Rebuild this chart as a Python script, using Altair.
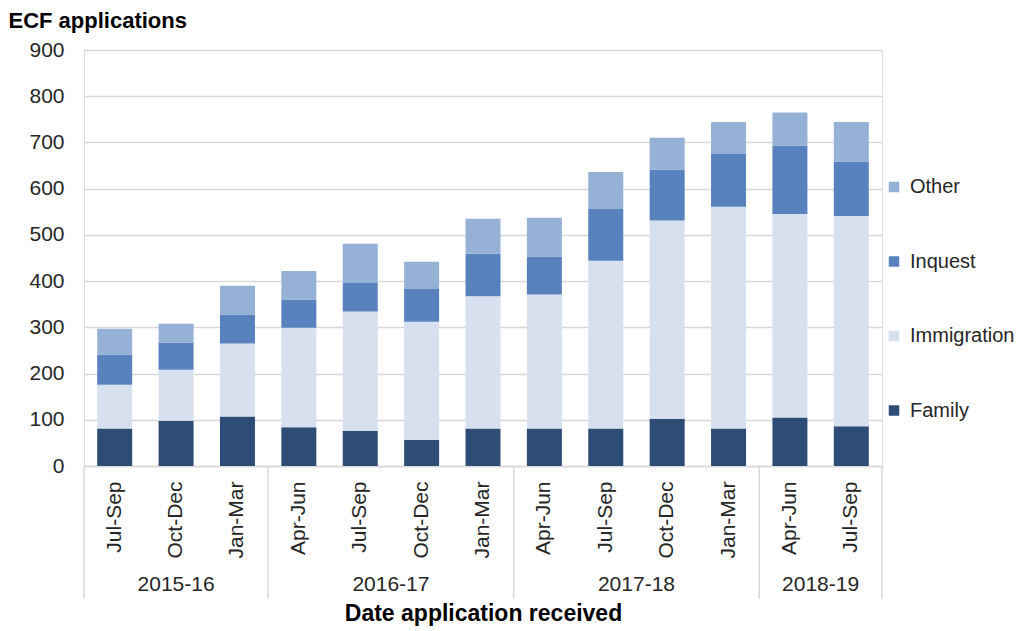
import altair as alt
import pandas as pd

years = ["2015-16"] * 3 + ["2016-17"] * 4 + ["2017-18"] * 4 + ["2018-19"] * 2
quarters = ["Jul-Sep", "Oct-Dec", "Jan-Mar",
            "Apr-Jun", "Jul-Sep", "Oct-Dec", "Jan-Mar",
            "Apr-Jun", "Jul-Sep", "Oct-Dec", "Jan-Mar",
            "Apr-Jun", "Jul-Sep"]
family = [81, 98, 107, 84, 76, 57, 81, 81, 81, 102, 81, 105, 86]
immigration = [95, 110, 158, 215, 258, 255, 286, 290, 363, 429, 480, 440, 455]
inquest = [65, 59, 63, 61, 62, 71, 92, 82, 112, 110, 114, 148, 118]
other = [56, 41, 62, 62, 85, 59, 76, 84, 80, 69, 69, 72, 85]

categories = ["Family", "Immigration", "Inquest", "Other"]
legend_order = ["Other", "Inquest", "Immigration", "Family"]
legend_colors = ["#96B1D6", "#5782BD", "#D6E0EE", "#2E4D76"]

keys = [f"{y} {q}" for y, q in zip(years, quarters)]

rows = []
for i, k in enumerate(keys):
    for rank, (cat, series) in enumerate(zip(categories, [family, immigration, inquest, other])):
        rows.append({"key": k, "category": cat, "value": series[i], "rank": rank})
df = pd.DataFrame(rows)

# group boundaries and year labels derived from the year list
year_names = list(dict.fromkeys(years))
first_keys = [keys[years.index(y)] for y in year_names]
last_key = [keys[-1]]

odd_labels, even_labels = [], []
for y in year_names:
    idx = [i for i, yy in enumerate(years) if yy == y]
    n = len(idx)
    if n % 2 == 1:
        odd_labels.append({"key": keys[idx[n // 2]], "year": y})
    else:
        even_labels.append({"key": keys[idx[n // 2 - 1]], "year": y})

FONT = "Liberation Sans"
GRID = "#D9D9D9"
TXT = "#262626"
W, H = 798, 416

xsort = keys
xscale = alt.Scale(paddingInner=0, paddingOuter=0)

bars = alt.Chart(df).mark_bar(width=alt.RelativeBandSize(0.57)).encode(
    x=alt.X("key:N", sort=xsort, scale=xscale,
            axis=alt.Axis(title="Date application received", labelAngle=-90,
                          labelExpr="split(datum.label, ' ')[1]",
                          labelFontSize=21, labelColor=TXT, labelFont=FONT,
                          labelPadding=15, ticks=False, domainColor=GRID,
                          domainWidth=1.5,
                          titleFont=FONT, titleFontSize=23, titleFontWeight="bold",
                          titleColor="#000000", titleX=W / 2, titleY=147,
                          titleBaseline="middle", titleAnchor="middle")),
    y=alt.Y("value:Q", stack="zero", scale=alt.Scale(domain=[0, 900]),
            axis=alt.Axis(title="ECF applications", values=list(range(0, 901, 100)),
                          labelFontSize=21, labelColor=TXT, labelFont=FONT,
                          labelPadding=20, ticks=False, domain=False,
                          gridColor=GRID, gridWidth=1.5,
                          titleFont=FONT, titleFontSize=22, titleFontWeight="bold",
                          titleColor="#000000", titleAngle=0, titleAlign="left",
                          titleBaseline="middle", titleX=-76, titleY=-30)),
    color=alt.Color("category:N",
                    scale=alt.Scale(domain=legend_order, range=legend_colors),
                    legend=alt.Legend(title=None, orient="none", legendX=800, legendY=127,
                                      direction="vertical", symbolType="square",
                                      symbolSize=110, symbolStrokeWidth=0,
                                      labelFontSize=20, labelFont=FONT, labelColor=TXT,
                                      labelOffset=6, rowPadding=54.5)),
    order=alt.Order("rank:Q"),
)

sep_left = alt.Chart(pd.DataFrame({"key": first_keys})).mark_rule(color=GRID, strokeWidth=1.5).encode(
    x=alt.X("key:N", sort=xsort, bandPosition=0),
    y=alt.value(H), y2=alt.value(549),
)
sep_right = alt.Chart(pd.DataFrame({"key": last_key})).mark_rule(color=GRID, strokeWidth=1.5).encode(
    x=alt.X("key:N", sort=xsort, bandPosition=1),
    y=alt.value(H), y2=alt.value(549),
)

ylab_odd = alt.Chart(pd.DataFrame(odd_labels)).mark_text(
    fontSize=21, font=FONT, color=TXT, baseline="middle").encode(
    x=alt.X("key:N", sort=xsort, bandPosition=0.5),
    y=alt.value(535), text="year:N",
)
ylab_even = alt.Chart(pd.DataFrame(even_labels)).mark_text(
    fontSize=21, font=FONT, color=TXT, baseline="middle").encode(
    x=alt.X("key:N", sort=xsort, bandPosition=1),
    y=alt.value(535), text="year:N",
)

chart = alt.layer(bars, sep_left, sep_right, ylab_odd, ylab_even).properties(
    width=W, height=H,
    autosize=alt.AutoSizeParams(type="none"),
    padding={"left": 76, "top": 42, "right": 134, "bottom": 160},
).configure_view(stroke=None).configure(font=FONT)

chart.save("out.html", embed_options={"renderer": "svg", "actions": False})
